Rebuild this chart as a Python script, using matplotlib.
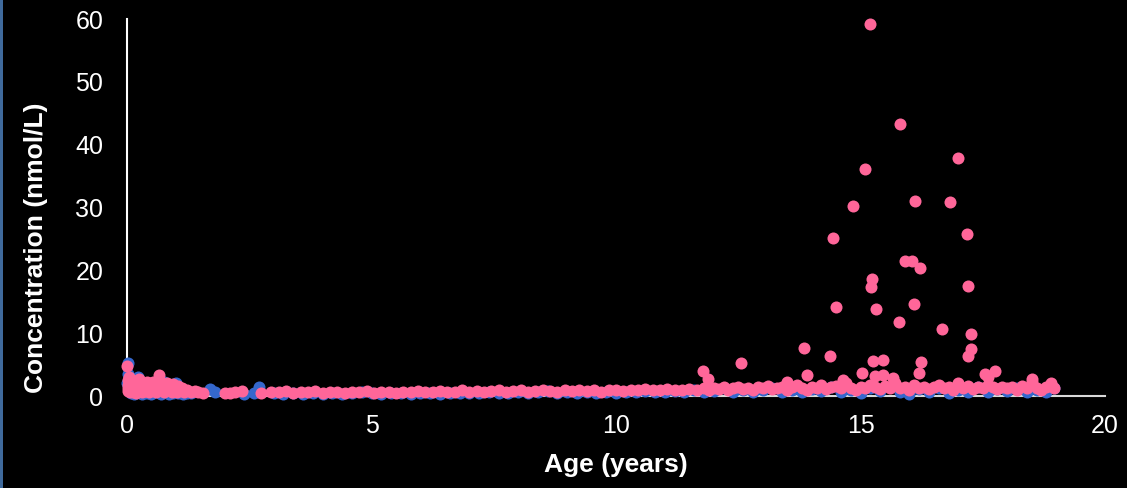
import matplotlib
matplotlib.use("Agg")
import matplotlib.pyplot as plt
from matplotlib.patches import Rectangle

# Age (years) / concentration (nmol/L)
blue_age = [
    0.0, 0.01, 0.03, 0.04, 0.06, 0.08, 0.1, 0.14, 0.18, 0.22, 0.26, 0.3, 0.35, 0.4, 0.45,
    0.5, 0.55, 0.6, 0.65, 0.7, 0.75, 0.8, 0.85, 0.9, 0.95, 1.0, 1.05, 1.1, 1.15, 1.22,
    1.3, 1.7, 1.8, 2.4, 2.6, 2.7,
    3.0, 3.2, 3.4, 3.6, 3.8, 4.0, 4.2, 4.4, 4.6, 4.8, 5.0, 5.2, 5.4, 5.6, 5.8, 6.0, 6.2,
    6.4, 6.6, 6.8, 7.0, 7.2, 7.4, 7.6, 7.8, 8.0, 8.2, 8.4, 8.6, 8.8, 9.0, 9.2, 9.4, 9.6,
    9.8, 10.0, 10.2, 10.4, 10.6, 10.8, 11.0, 11.2, 11.4, 11.6, 11.8,
    12.0, 12.2, 12.4, 12.6, 12.8, 13.0, 13.2, 13.4, 13.6, 13.8, 14.0, 14.2, 14.4, 14.6,
    14.8, 15.0, 15.2, 15.4, 15.6, 15.8, 16.0, 16.2, 16.4, 16.6, 16.8, 17.0, 17.2, 17.4,
    17.6, 17.8, 18.0, 18.2, 18.4, 18.6, 18.8, 18.95,
]
blue_conc = [
    2.0, 3.5, 5.3, 1.0, 2.8, 0.4, 1.6, 0.3, 2.2, 3.1, 0.9, 0.3, 1.8, 0.5, 1.2,
    0.3, 2.0, 0.6, 1.3, 0.3, 2.2, 0.7, 0.3, 1.4, 0.5, 2.0, 0.4, 1.1, 0.3, 0.5,
    0.4, 1.1, 0.6, 0.3, 0.4, 1.5,
    0.4, 0.3, 0.5, 0.3, 0.4, 0.3, 0.5, 0.3, 0.4, 0.7, 0.5, 0.3, 0.4, 0.5, 0.3, 0.4, 0.5,
    0.3, 0.5, 0.4, 0.5, 0.4, 0.6, 0.4, 0.5, 0.6, 0.4, 0.6, 0.8, 0.4, 0.6, 0.5, 0.7, 0.5,
    0.6, 0.5, 0.7, 0.6, 0.8, 0.6, 0.7, 0.8, 0.6, 0.9, 0.7,
    0.8, 1.2, 0.7, 1.0, 0.6, 0.9, 1.3, 0.7, 1.0, 0.6, 1.1, 0.8, 1.4, 0.7,
    1.0, 0.5, 1.2, 0.8, 1.5, 0.6, 0.3, 1.1, 0.7, 1.3, 0.5, 1.0, 0.7, 1.4,
    0.6, 1.1, 0.8, 1.3, 0.6, 1.0, 0.7, 1.2,
]

pink_age = [
    0.0, 0.01, 0.02, 0.02, 0.03, 0.04, 0.05, 0.06, 0.07, 0.09, 0.1, 0.12, 0.13, 0.15, 0.17,
    0.19, 0.21, 0.23, 0.25, 0.27, 0.3, 0.32, 0.35, 0.37, 0.4, 0.42, 0.45, 0.48, 0.5, 0.53,
    0.56, 0.59, 0.62, 0.66, 0.68, 0.72, 0.75, 0.78, 0.82, 0.85, 0.88, 0.92, 0.95, 0.98,
    1.02, 1.05, 1.08, 1.12, 1.17, 1.22, 1.3, 1.4,
    1.45, 1.55, 2.0, 2.1, 2.2, 2.35, 2.75, 2.95, 3.1, 3.25, 3.4, 3.55, 3.7, 3.85, 4.0,
    4.15, 4.3, 4.45, 4.6, 4.75, 4.9, 5.05, 5.2, 5.35, 5.5, 5.65, 5.8, 5.95, 6.1, 6.25,
    6.4, 6.55, 6.7, 6.85, 7.0, 7.15, 7.3, 7.45, 7.6, 7.75, 7.9, 8.05, 8.2, 8.35, 8.5,
    8.65, 8.8, 8.95, 9.1, 9.25, 9.4, 9.55, 9.7, 9.85, 10.0, 10.15, 10.3, 10.45, 10.6,
    10.75, 10.9, 11.05, 11.2, 11.35, 11.5, 11.65,
    11.8, 11.9, 12.0, 12.1, 12.2, 12.3, 12.4, 12.5, 12.6, 12.7, 12.8, 12.9, 13.0, 13.1,
    13.2, 13.3, 13.4, 13.5, 13.6, 13.7, 13.8, 13.9, 14.0, 14.1, 14.2, 14.3, 14.4, 14.5,
    14.6, 14.7, 14.8, 14.9, 15.0, 15.1, 15.2, 15.3, 15.4, 15.5, 15.6, 15.7, 15.8, 15.9,
    16.0, 16.1, 16.2, 16.3, 16.4, 16.5, 16.6, 16.7, 16.8, 16.9, 17.0, 17.1, 17.2, 17.3,
    17.4, 17.5, 17.6, 17.7, 17.8, 17.9, 18.0, 18.1, 18.2, 18.3, 18.4, 18.5, 18.6, 18.7,
    18.8, 18.9, 18.95,
    15.19, 15.81, 15.1, 16.99, 14.84, 16.11, 16.82, 14.44, 17.17, 15.9, 16.06, 16.21,
    15.23, 15.21, 17.19, 14.49, 15.32, 16.09, 15.79, 16.66, 17.25, 17.25, 17.2, 13.84,
    14.38, 15.25, 15.46, 16.23, 13.9, 15.04, 15.45, 16.2, 17.76, 17.55, 15.66, 12.55,
    11.78, 11.88, 15.3, 14.65, 13.5, 18.5, 17.6,
]
pink_conc = [
    4.7, 2.5, 1.8, 1.2, 0.8, 3.0, 2.2, 1.5, 0.6, 2.6, 1.1, 1.9, 0.7, 2.4, 1.4,
    0.5, 2.0, 1.0, 2.7, 1.6, 0.6, 2.1, 1.2, 0.8, 2.3, 1.5, 0.6, 1.9, 1.0, 2.2,
    1.4, 0.7, 1.8, 3.4, 1.1, 2.0, 0.6, 1.5, 2.1, 0.9, 1.6, 0.6, 1.9, 1.2,
    0.7, 1.6, 1.0, 1.3, 0.6, 0.9, 0.6, 0.8,
    0.6, 0.4, 0.5, 0.4, 0.6, 0.8, 0.5, 0.7, 0.6, 0.8, 0.5, 0.7, 0.6, 0.8, 0.5,
    0.7, 0.6, 0.5, 0.7, 0.6, 0.8, 0.5, 0.7, 0.6, 0.5, 0.7, 0.6, 0.8, 0.6, 0.7,
    0.8, 0.6, 0.7, 0.9, 0.7, 0.8, 0.6, 0.8, 0.9, 0.7, 0.8, 0.9, 0.7, 0.8, 1.0,
    0.8, 0.7, 0.9, 0.8, 1.0, 0.8, 0.9, 0.7, 1.0, 0.9, 0.8, 1.0, 0.9, 1.1,
    0.9, 1.0, 1.1, 0.9, 1.0, 1.1, 1.0,
    1.2, 1.0, 1.3, 1.1, 1.4, 1.0, 1.2, 1.5, 1.1, 1.3, 1.0, 1.4, 1.2, 1.6,
    1.1, 1.3, 1.5, 1.0, 1.4, 1.7, 1.2, 1.0, 1.5, 1.3, 1.8, 1.1, 1.4, 1.6,
    1.2, 2.0, 1.3, 1.0, 1.5, 1.2, 1.8, 1.4, 1.1, 1.6, 1.3, 2.1, 1.2, 1.5,
    1.0, 1.7, 1.3, 1.5, 1.1, 1.4, 1.8, 1.2, 1.5, 1.0, 2.0, 1.3, 1.6, 1.1,
    1.5, 1.2, 1.8, 1.4, 1.1, 1.5, 1.2, 1.4, 1.0, 1.6, 1.2, 2.3, 1.3, 1.0,
    1.5, 2.1, 1.2,
    59.2, 43.3, 36.2, 37.9, 30.2, 31.1, 30.9, 25.2, 25.8, 21.5, 21.5, 20.4,
    18.6, 17.3, 17.5, 14.1, 13.9, 14.6, 11.8, 10.7, 9.8, 7.5, 6.4, 7.7,
    6.4, 5.6, 5.8, 5.4, 3.4, 3.7, 3.4, 3.6, 4.0, 3.5, 2.9, 5.2,
    4.0, 2.7, 3.2, 2.5, 2.3, 2.7, 3.0,
]

x_ticks = [0, 5, 10, 15, 20]
y_ticks = [0, 10, 20, 30, 40, 50, 60]

plt.rcParams["font.family"] = ["Liberation Sans", "DejaVu Sans"]

fig = plt.figure(figsize=(11.27, 4.88), dpi=100, facecolor="black")
ax = fig.add_axes([0.1127, 0.1885, 0.8678, 0.7725])
ax.set_facecolor("black")

# thin blue strip along the left edge of the slide
fig.patches.append(Rectangle((0, 0), 3 / 1127, 1, transform=fig.transFigure,
                             facecolor="#3f6a9c", edgecolor="none"))

ax.scatter(blue_age, blue_conc, s=75, color="#3467cc", linewidths=0, zorder=3, clip_on=False)
ax.scatter(pink_age, pink_conc, s=75, color="#ff6699", linewidths=0, zorder=4, clip_on=False)

ax.set_xlim(0, 20)
ax.set_ylim(0, 60)
ax.set_xticks(x_ticks)
ax.set_yticks(y_ticks)

for side in ["top", "right"]:
    ax.spines[side].set_visible(False)
ax.spines["left"].set_color("white")
ax.spines["left"].set_linewidth(1.5)
ax.spines["bottom"].set_color("#d9d9d9")
ax.spines["bottom"].set_linewidth(1.5)

ax.tick_params(axis="both", length=0, colors="white", labelsize=18)
ax.tick_params(axis="y", pad=17)
ax.tick_params(axis="x", pad=13)

ax.set_xlabel("Age (years)", color="white", fontsize=19, fontweight="bold", va="center")
ax.set_ylabel("Concentration (nmol/L)", color="white", fontsize=19, fontweight="bold", va="center")
ax.xaxis.set_label_coords(0.5, -0.183)
ax.yaxis.set_label_coords(-0.093, 0.393)

fig.savefig("out.png", dpi=100, facecolor="black")
